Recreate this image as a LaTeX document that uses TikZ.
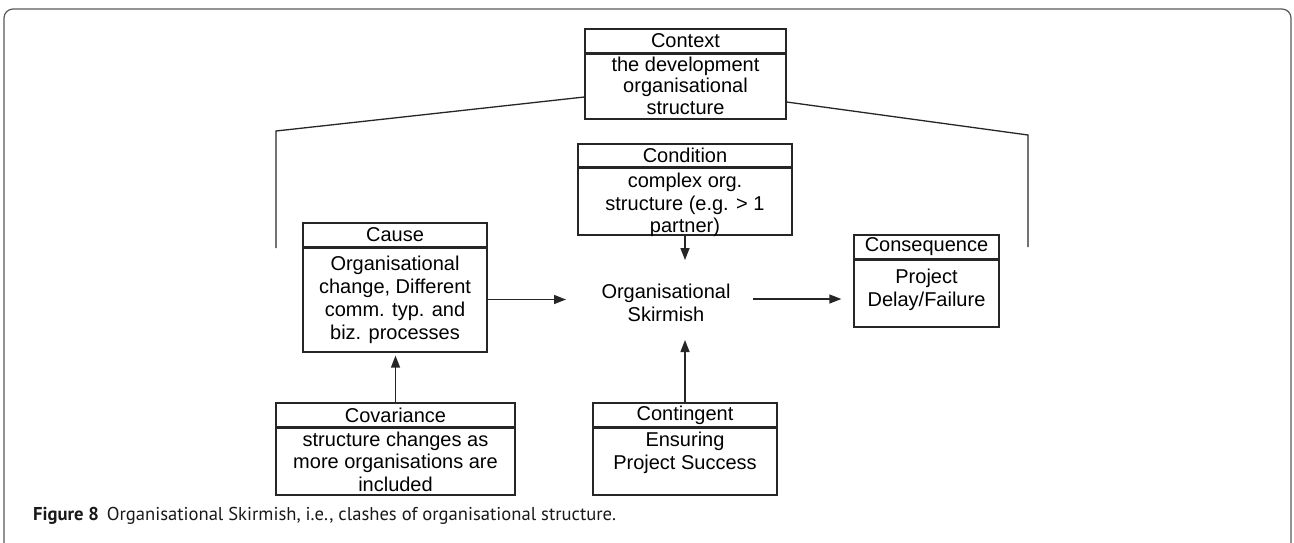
\documentclass[tikz,border=0pt]{standalone}
\usepackage{fontspec}
\setmainfont{Liberation Sans}
\newfontfamily\capfont{PT Sans}
\usetikzlibrary{arrows.meta}
\begin{document}
\begin{tikzpicture}[x=1pt,y=-1pt,
  ln/.style={draw=black!85, line width=1.3pt},
  divider/.style={draw=black!85, line width=2.2pt},
  hdr/.style={ln, rectangle, inner sep=0pt, font=\fontsize{20}{23}\selectfont},
  bodybox/.style={ln, rectangle, inner sep=0pt},
  txt/.style={align=center, inner sep=0pt, font=\fontsize{20}{23}\selectfont},
  arr/.style={draw=black!85, line width=1.4pt, -{Triangle[length=12pt,width=9pt]}},
]
\useasboundingbox (0,0) rectangle (1294,542);
% outer frame
\draw[black!65, line width=1.2pt, rounded corners=9pt] (4,620) -- (4,9) -- (1291,9) -- (1291,620);

% Context
\node[hdr, minimum width=201pt, minimum height=24pt] (ctxH) at (685.5,41) {Context};
\node[bodybox, minimum width=201pt, minimum height=66pt] (ctxB) at (685.5,86) {};
\draw[divider] (ctxH.south west) -- (ctxH.south east);
\node[txt, font=\fontsize{20}{21.5}\selectfont] (ctxT) at (685.5,85.5) {the development\\organisational\\structure};

% Condition
\node[hdr, minimum width=214pt, minimum height=23pt] (condH) at (685,155.5) {Condition};
\node[bodybox, minimum width=214pt, minimum height=68pt] (condB) at (685,201) {};
\draw[divider] (condH.south west) -- (condH.south east);
\node[txt, font=\fontsize{20}{22.5}\selectfont] (condT) at (685,205) {complex org.\\structure (e.g. > 1\\partner)};

% Cause
\node[hdr, minimum width=184pt, minimum height=24pt] (causeH) at (395,235) {Cause};
\node[bodybox, minimum width=184pt, minimum height=105pt] (causeB) at (395,299.5) {};
\draw[divider] (causeH.south west) -- (causeH.south east);
\node[txt] (causeT) at (395,300) {Organisational\\change, Different\\comm. typ. and\\biz. processes};

% Consequence
\node[hdr, minimum width=145pt, minimum height=24pt] (consH) at (926.5,247) {Consequence};
\node[bodybox, minimum width=145pt, minimum height=68pt] (consB) at (926.5,293) {};
\draw[divider] (consH.south west) -- (consH.south east);
\node[txt] (consT) at (926.5,290) {Project\\Delay/Failure};

% Covariance
\node[hdr, minimum width=239pt, minimum height=24pt] (covH) at (395.5,415) {Covariance};
\node[bodybox, minimum width=239pt, minimum height=68pt] (covB) at (395.5,461) {};
\draw[divider] (covH.south west) -- (covH.south east);
\node[txt, font=\fontsize{20}{22.5}\selectfont] (covT) at (395.5,461.5) {structure changes as\\more organisations are\\included};

% Contingent
\node[hdr, minimum width=184pt, minimum height=24pt] (contH) at (685,415) {Contingent};
\node[bodybox, minimum width=184pt, minimum height=68pt] (contB) at (685,461) {};
\draw[divider] (contH.south west) -- (contH.south east);
\node[txt] (contT) at (685,453) {Ensuring\\Project Success};

% Central phenomenon
\node[txt] (skirm) at (666,303) {Organisational\\Skirmish};
\coordinate (skW) at (566,299.5);
\coordinate (skN) at (685,260);
\coordinate (skS) at (685,340);
\coordinate (skE) at (753,299);

% arrows
\draw[arr] (causeB.east) -- (skW);
\draw[arr] (condB.south) -- (skN);
\draw[arr] (contH.north) -- (skS);
\draw[arr, shorten >=12pt] (skE) -- (skE -| consB.west);
\draw[arr, shorten >=3pt] (covH.north) -- (covH.north |- causeB.south);

% context bracket lines
\coordinate (cL) at (276,131);
\coordinate (cLb) at (276,248);
\coordinate (cR) at (1028,135);
\coordinate (cRb) at (1028,247);
\draw[ln] ([yshift=-11pt]ctxB.west) -- (cL) -- (cLb);
\draw[ln] ([yshift=-16pt]ctxB.east) -- (cR) -- (cRb);

% caption
\node[anchor=base west, inner sep=0pt, text=black!90, font=\capfont\fontsize{18.6}{22}\selectfont] (cap) at (33,520) {\textbf{Figure 8}\hspace{8pt}Organisational Skirmish, i.e., clashes of organisational structure.};
\end{tikzpicture}
\end{document}
